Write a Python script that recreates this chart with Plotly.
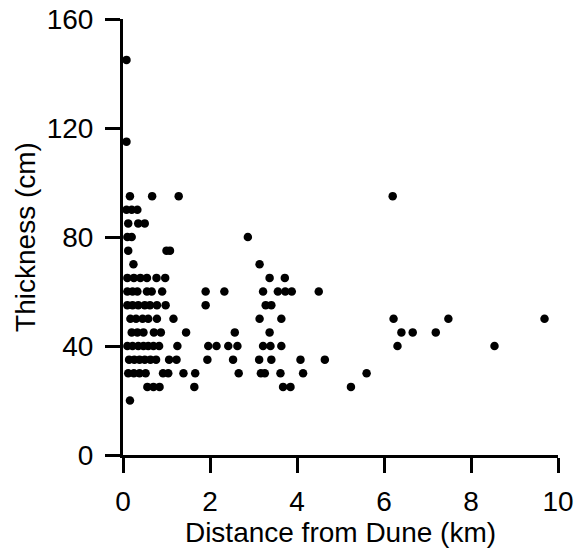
import plotly.graph_objects as go

# Thickness (cm) vs distance from dune (km)
distance_km = [
    0.08, 0.08,
    0.16, 0.67, 1.28, 6.2,
    0.08, 0.2, 0.33,
    0.12, 0.35, 0.5,
    0.1, 0.2, 2.87,
    0.12, 1.0, 1.08,
    0.24, 3.14,
    0.1, 0.25, 0.4, 0.55, 0.77, 0.97, 3.37, 3.72,
    0.1, 0.22, 0.33, 0.55, 0.66, 0.9, 1.9, 2.33, 3.22, 3.56, 3.73, 3.88, 4.5,
    0.1, 0.22, 0.35, 0.5, 0.62, 0.78, 0.98, 1.9, 3.28, 3.41,
    0.17, 0.3, 0.45, 0.58, 0.78, 1.16, 3.14, 3.64, 6.22, 7.48, 9.69,
    0.2, 0.33, 0.47, 0.71, 0.87, 1.45, 2.57, 3.37, 6.4, 6.66, 7.19,
    0.1, 0.22, 0.35, 0.47, 0.58, 0.7, 0.83, 1.25, 1.96, 2.15, 2.42, 2.63, 3.22, 3.39, 3.64, 6.31, 8.54,
    0.14, 0.26, 0.38, 0.5, 0.63, 0.76, 1.06, 1.23, 1.94, 2.53, 3.13, 3.41, 4.08, 4.64,
    0.12, 0.25, 0.38, 0.52, 0.92, 1.04, 1.39, 1.66, 2.66, 3.17, 3.26, 3.62, 4.14, 5.6,
    0.56, 0.7, 0.84, 1.64, 3.68, 3.85, 5.24,
    0.16,
]
thickness_cm = [
    145, 115,
    95, 95, 95, 95,
    90, 90, 90,
    85, 85, 85,
    80, 80, 80,
    75, 75, 75,
    70, 70,
    65, 65, 65, 65, 65, 65, 65, 65,
    60, 60, 60, 60, 60, 60, 60, 60, 60, 60, 60, 60, 60,
    55, 55, 55, 55, 55, 55, 55, 55, 55, 55,
    50, 50, 50, 50, 50, 50, 50, 50, 50, 50, 50,
    45, 45, 45, 45, 45, 45, 45, 45, 45, 45, 45,
    40, 40, 40, 40, 40, 40, 40, 40, 40, 40, 40, 40, 40, 40, 40, 40, 40,
    35, 35, 35, 35, 35, 35, 35, 35, 35, 35, 35, 35, 35, 35,
    30, 30, 30, 30, 30, 30, 30, 30, 30, 30, 30, 30, 30, 30,
    25, 25, 25, 25, 25, 25, 25,
    20,
]

x_ticks = [0, 2, 4, 6, 8, 10]
y_ticks = [0, 40, 80, 120, 160]

FONT = "Liberation Sans, Arial, sans-serif"

fig = go.Figure(
    go.Scatter(
        x=distance_km,
        y=thickness_cm,
        mode="markers",
        marker=dict(color="black", size=8.5, line=dict(width=0)),
        cliponaxis=False,
        hoverinfo="x+y",
    )
)

axis_common = dict(
    showline=True,
    linewidth=3,
    linecolor="black",
    ticks="outside",
    ticklen=15,
    tickwidth=3,
    tickcolor="black",
    showgrid=False,
    zeroline=False,
    automargin=False,
    ticklabeloverflow="allow",
    tickfont=dict(family=FONT, size=28, color="black"),
)

fig.update_layout(
    width=575,
    height=549,
    margin=dict(l=123, r=17, t=19, b=94),
    paper_bgcolor="white",
    plot_bgcolor="white",
    showlegend=False,
    font=dict(family=FONT, color="black"),
    xaxis=dict(
        range=[0, 10],
        tickvals=x_ticks,
        ticktext=[str(v) for v in x_ticks],
        ticklabelstandoff=4,
        title=dict(text="Distance from Dune (km)", font=dict(family=FONT, size=28), standoff=0),
        **axis_common,
    ),
    yaxis=dict(
        range=[0, 160],
        tickvals=y_ticks,
        ticktext=[str(v) for v in y_ticks],
        ticklabelstandoff=6,
        title=dict(text="Thickness (cm)", font=dict(family=FONT, size=28), standoff=3),
        **axis_common,
    ),
)

# remove the browser's default page margin so the figure fills the window exactly
fig.write_html(
    "out.html",
    config={"displayModeBar": False},
    post_script="document.body.style.margin='0';document.body.style.overflow='hidden';",
)
